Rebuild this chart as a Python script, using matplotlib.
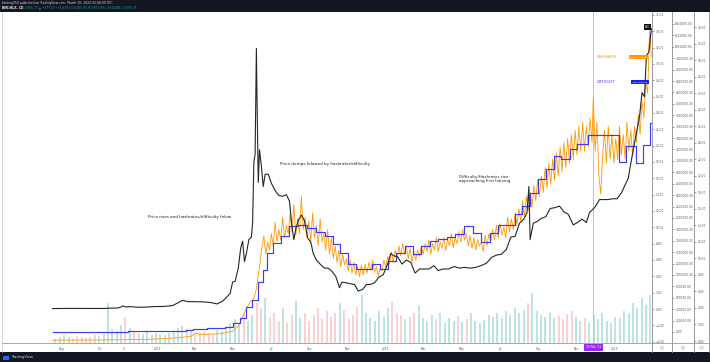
import numpy as np
import pandas as pd
import matplotlib
matplotlib.use("Agg")
import matplotlib.pyplot as plt
import matplotlib.dates as mdates
from matplotlib.lines import Line2D
from matplotlib.patches import Rectangle

# ---------------- data ----------------
price_dates = [
    "2010-07-17", "2010-07-25", "2010-08-10", "2010-09-01", "2010-09-25", "2010-10-08",
    "2010-10-15", "2010-10-28", "2010-11-03", "2010-11-06", "2010-11-10", "2010-11-20",
    "2010-12-01", "2010-12-15", "2010-12-28", "2011-01-10", "2011-01-25", "2011-02-05",
    "2011-02-10", "2011-02-18", "2011-03-01", "2011-03-15", "2011-03-28", "2011-04-06",
    "2011-04-15", "2011-04-22", "2011-04-27", "2011-05-01", "2011-05-05", "2011-05-10",
    "2011-05-14", "2011-05-17", "2011-05-20", "2011-05-23", "2011-05-27", "2011-05-31",
    "2011-06-02", "2011-06-04", "2011-06-06", "2011-06-08", "2011-06-09", "2011-06-11",
    "2011-06-13", "2011-06-16", "2011-06-19", "2011-06-22", "2011-06-27", "2011-07-02",
    "2011-07-08", "2011-07-14", "2011-07-20", "2011-07-26", "2011-07-31", "2011-08-04",
    "2011-08-07", "2011-08-10", "2011-08-15", "2011-08-19", "2011-08-24", "2011-08-29",
    "2011-09-03", "2011-09-07", "2011-09-12", "2011-09-18", "2011-09-25", "2011-10-01",
    "2011-10-07", "2011-10-13", "2011-10-19", "2011-10-23", "2011-10-30", "2011-11-05",
    "2011-11-12", "2011-11-18", "2011-11-25", "2011-12-01", "2011-12-07", "2011-12-14",
    "2011-12-21", "2011-12-28", "2012-01-04", "2012-01-09", "2012-01-14", "2012-01-20",
    "2012-01-27", "2012-02-03", "2012-02-10", "2012-02-17", "2012-02-24", "2012-03-02",
    "2012-03-10", "2012-03-18", "2012-03-25", "2012-04-01", "2012-04-10", "2012-04-20",
    "2012-04-28", "2012-05-06", "2012-05-15", "2012-05-24", "2012-06-01", "2012-06-10",
    "2012-06-18", "2012-06-26", "2012-07-04", "2012-07-12", "2012-07-19", "2012-07-26",
    "2012-08-02", "2012-08-09", "2012-08-14", "2012-08-17", "2012-08-19", "2012-08-24",
    "2012-08-30", "2012-09-06", "2012-09-13", "2012-09-20", "2012-09-27", "2012-10-05",
    "2012-10-12", "2012-10-19", "2012-10-27", "2012-11-03", "2012-11-10", "2012-11-17",
    "2012-11-22", "2012-12-01", "2012-12-08", "2012-12-15", "2012-12-22", "2012-12-29",
    "2013-01-05", "2013-01-12", "2013-01-18", "2013-01-23", "2013-01-27", "2013-02-02",
    "2013-02-10", "2013-02-14", "2013-02-18", "2013-02-21", "2013-02-25", "2013-03-01",
]
price_vals = [
    0.05, 0.06, 0.07, 0.065, 0.062, 0.065,
    0.10, 0.12, 0.22, 0.39, 0.26, 0.28,
    0.21, 0.24, 0.30, 0.31, 0.42, 0.85,
    1.06, 0.90, 0.90, 0.87, 0.78, 0.62,
    0.95, 1.50, 1.90, 3.30, 3.40, 5.00,
    7.50, 8.30, 5.80, 6.80, 8.50, 8.80,
    10.6, 18.0, 19.0, 31.9, 26.0, 15.5,
    19.5, 17.5, 15.0, 16.5, 16.5, 15.4,
    14.5, 13.9, 13.8, 14.0, 13.2, 10.0,
    8.5, 9.8, 11.0, 11.5, 10.8, 8.7,
    8.2, 6.8, 6.0, 5.5, 5.0, 5.0,
    4.6, 4.0, 2.6, 3.3, 3.2, 3.1,
    3.0, 2.2, 2.4, 3.0, 3.0, 3.2,
    3.9, 4.2, 5.5, 6.8, 6.5, 6.4,
    5.5, 6.0, 5.7, 4.4, 4.9, 4.9,
    4.9, 5.3, 4.7, 4.9, 4.9, 5.2,
    5.0, 5.1, 5.0, 5.1, 5.3, 5.6,
    6.3, 6.6, 6.7, 7.3, 8.8, 8.9,
    10.5, 11.0, 11.8, 15.0, 8.5, 10.5,
    10.7, 11.1, 11.3, 12.3, 12.4, 12.6,
    11.9, 11.6, 10.3, 10.6, 11.0, 10.6,
    11.8, 12.5, 13.4, 13.4, 13.4, 13.5,
    13.5, 14.2, 15.2, 16.0, 17.8, 20.3,
    23.5, 26.5, 26.0, 31.0, 31.5, 34.3,
]

diff_dates = [
    "2010-07-17", "2010-08-14", "2010-09-14", "2010-10-05", "2010-10-16", "2010-11-01",
    "2010-11-14", "2010-11-30", "2010-12-18", "2011-01-05", "2011-01-18", "2011-01-31",
    "2011-02-15", "2011-02-26", "2011-03-09", "2011-03-21", "2011-04-06", "2011-04-19",
    "2011-05-01", "2011-05-12", "2011-05-22", "2011-06-01", "2011-06-11", "2011-06-19",
    "2011-06-25", "2011-07-05", "2011-07-18", "2011-07-30", "2011-08-13", "2011-08-28",
    "2011-09-11", "2011-09-25", "2011-10-08", "2011-10-20", "2011-11-01", "2011-11-15",
    "2011-11-28", "2011-12-10", "2011-12-23", "2012-01-05", "2012-01-18", "2012-01-31",
    "2012-02-13", "2012-02-27", "2012-03-12", "2012-03-25", "2012-04-08", "2012-04-21",
    "2012-05-05", "2012-05-19", "2012-06-01", "2012-06-15", "2012-06-29", "2012-07-12",
    "2012-07-25", "2012-08-06", "2012-08-19", "2012-08-31", "2012-09-13", "2012-09-26",
    "2012-10-08", "2012-10-21", "2012-11-02", "2012-11-19", "2013-01-08", "2013-01-19",
    "2013-02-05", "2013-02-16", "2013-02-26",
]
diff_vals = [  # millions
    0.0002, 0.0006, 0.0015, 0.003, 0.0045, 0.0068,
    0.0088, 0.012, 0.014, 0.016, 0.019, 0.022,
    0.029, 0.045, 0.055, 0.067, 0.068, 0.092,
    0.159, 0.244, 0.434, 0.567, 0.877, 1.09,
    1.38, 1.56, 1.69, 1.85, 1.88, 1.82,
    1.76, 1.69, 1.55, 1.38, 1.19, 1.10,
    1.10, 1.19, 1.10, 1.25, 1.38, 1.50,
    1.37, 1.50, 1.59, 1.63, 1.66, 1.72,
    1.85, 1.73, 1.58, 1.73, 1.87, 1.87,
    2.07, 2.21, 2.44, 2.69, 2.86, 3.08,
    3.04, 3.20, 3.30, 3.46, 2.98, 3.26,
    2.96, 3.28, 3.67,
]

hr_dates = [
    "2010-07-17", "2010-09-15", "2010-11-01", "2010-12-15", "2011-01-15", "2011-02-10",
    "2011-02-25", "2011-03-03", "2011-03-08", "2011-03-20", "2011-04-05", "2011-04-20",
    "2011-05-01", "2011-05-10", "2011-05-15", "2011-05-20", "2011-05-25", "2011-05-30",
    "2011-06-04", "2011-06-08", "2011-06-11", "2011-06-14", "2011-06-17", "2011-06-20",
    "2011-06-23", "2011-06-26", "2011-06-29", "2011-07-02", "2011-07-05", "2011-07-08",
    "2011-07-11", "2011-07-14", "2011-07-17", "2011-07-20", "2011-07-23", "2011-07-26",
    "2011-07-29", "2011-08-01", "2011-08-04", "2011-08-07", "2011-08-10", "2011-08-13",
    "2011-08-16", "2011-08-19", "2011-08-22", "2011-08-25", "2011-08-28", "2011-08-31",
    "2011-09-03", "2011-09-06", "2011-09-09", "2011-09-12", "2011-09-15", "2011-09-18",
    "2011-09-21", "2011-09-24", "2011-09-27", "2011-09-30", "2011-10-03", "2011-10-06",
    "2011-10-09", "2011-10-12", "2011-10-15", "2011-10-18", "2011-10-21", "2011-10-24",
    "2011-10-27", "2011-10-30", "2011-11-02", "2011-11-05", "2011-11-08", "2011-11-11",
    "2011-11-14", "2011-11-17", "2011-11-20", "2011-11-23", "2011-11-26", "2011-11-29",
    "2011-12-02", "2011-12-05", "2011-12-08", "2011-12-11", "2011-12-14", "2011-12-17",
    "2011-12-20", "2011-12-23", "2011-12-26", "2011-12-29", "2012-01-01", "2012-01-04",
    "2012-01-07", "2012-01-10", "2012-01-13", "2012-01-16", "2012-01-19", "2012-01-22",
    "2012-01-25", "2012-01-28", "2012-01-31", "2012-02-03", "2012-02-06", "2012-02-09",
    "2012-02-12", "2012-02-15", "2012-02-18", "2012-02-21", "2012-02-24", "2012-02-27",
    "2012-03-01", "2012-03-04", "2012-03-07", "2012-03-10", "2012-03-13", "2012-03-16",
    "2012-03-19", "2012-03-22", "2012-03-25", "2012-03-28", "2012-03-31", "2012-04-03",
    "2012-04-06", "2012-04-09", "2012-04-12", "2012-04-15", "2012-04-18", "2012-04-21",
    "2012-04-24", "2012-04-27", "2012-04-30", "2012-05-03", "2012-05-06", "2012-05-09",
    "2012-05-12", "2012-05-15", "2012-05-18", "2012-05-21", "2012-05-24", "2012-05-27",
    "2012-05-30", "2012-06-02", "2012-06-05", "2012-06-08", "2012-06-11", "2012-06-14",
    "2012-06-17", "2012-06-20", "2012-06-23", "2012-06-26", "2012-06-29", "2012-07-02",
    "2012-07-05", "2012-07-08", "2012-07-11", "2012-07-14", "2012-07-17", "2012-07-20",
    "2012-07-23", "2012-07-26", "2012-07-29", "2012-08-01", "2012-08-04", "2012-08-07",
    "2012-08-10", "2012-08-13", "2012-08-16", "2012-08-19", "2012-08-22", "2012-08-25",
    "2012-08-28", "2012-08-31", "2012-09-03", "2012-09-06", "2012-09-09", "2012-09-12",
    "2012-09-15", "2012-09-18", "2012-09-21", "2012-09-24", "2012-09-27", "2012-09-30",
    "2012-10-03", "2012-10-06", "2012-10-09", "2012-10-12", "2012-10-15", "2012-10-18",
    "2012-10-21", "2012-10-24", "2012-10-27", "2012-10-30", "2012-11-02", "2012-11-05",
    "2012-11-08", "2012-11-11", "2012-11-14", "2012-11-17", "2012-11-20", "2012-11-23",
    "2012-11-26", "2012-11-28", "2012-12-01", "2012-12-04", "2012-12-07", "2012-12-10",
    "2012-12-13", "2012-12-16", "2012-12-19", "2012-12-22", "2012-12-25", "2012-12-28",
    "2012-12-31", "2013-01-03", "2013-01-06", "2013-01-09", "2013-01-12", "2013-01-15",
    "2013-01-18", "2013-01-21", "2013-01-24", "2013-01-27", "2013-01-30", "2013-02-02",
    "2013-02-05", "2013-02-08", "2013-02-11", "2013-02-14", "2013-02-17", "2013-02-20",
    "2013-02-23", "2013-02-26", "2013-03-01",
]
hr_vals = [
    0.1, 0.12, 0.15, 0.2, 0.3, 0.45,
    0.6, 1.0, 0.8, 0.8, 0.85, 1.0,
    1.2, 1.8, 2.6, 3.4, 4.2, 4.8,
    5.2, 6.3, 8.0, 9.5, 11.5, 12.7,
    10.5, 12.0, 11.0, 13.0, 11.5, 14.4,
    12.0, 13.5, 12.2, 15.0, 12.5, 14.0,
    13.0, 15.5, 13.2, 16.5, 12.8, 14.8,
    13.0, 17.5, 13.5, 15.0, 12.5, 14.5,
    12.0, 15.5, 12.5, 14.0, 11.5, 14.8,
    12.0, 13.0, 11.0, 13.5, 10.5, 12.5,
    10.0, 11.5, 9.5, 11.0, 9.0, 10.5,
    9.2, 10.0, 8.5, 9.8, 8.2, 9.5,
    8.0, 9.0, 7.8, 9.2, 8.0, 9.3,
    8.2, 9.5, 8.5, 9.8, 8.3, 9.0,
    7.9, 8.8, 8.5, 9.8, 9.0, 10.2,
    9.3, 10.8, 9.5, 11.0, 10.0, 11.5,
    10.3, 11.8, 10.5, 11.5, 10.0, 11.2,
    9.5, 10.8, 9.8, 11.0, 10.2, 11.5,
    10.5, 11.8, 10.8, 12.2, 10.5, 11.8,
    11.0, 12.5, 10.8, 12.0, 11.2, 12.5,
    11.0, 12.3, 11.5, 13.0, 11.3, 12.5,
    11.8, 13.2, 12.0, 13.5, 12.2, 13.0,
    11.5, 12.8, 11.2, 12.5, 11.0, 12.3,
    11.5, 12.0, 10.8, 12.8, 11.5, 13.0,
    12.0, 13.5, 12.2, 14.0, 12.5, 14.2,
    12.8, 13.8, 12.5, 15.0, 13.2, 14.8,
    13.5, 15.5, 14.0, 16.0, 14.5, 17.0,
    15.0, 17.5, 15.8, 18.0, 16.2, 18.8,
    17.0, 19.5, 17.5, 20.0, 18.0, 21.0,
    18.5, 21.5, 19.0, 22.0, 19.5, 22.8,
    20.0, 23.5, 20.5, 24.0, 21.0, 24.5,
    21.5, 25.0, 22.0, 25.5, 22.5, 26.0,
    23.0, 26.5, 23.0, 26.0, 23.5, 27.0,
    24.0, 29.5, 23.0, 26.5, 20.0, 17.8,
    22.5, 25.5, 21.5, 26.0, 22.0, 25.0,
    21.5, 24.5, 22.0, 26.0, 22.5, 25.0,
    22.0, 26.5, 23.0, 25.5, 22.5, 26.0,
    24.0, 27.5, 25.0, 29.0, 27.0, 31.5,
    30.0, 37.5, 34.4,
]

vol_week_start = "2010-07-18"
vol_vals = [
    4, 6,
    8, 6, 5, 7, 6,
    5, 6, 8, 7,
    9, 40, 14, 12, 18,
    26, 15, 12, 10,
    9, 11, 8, 10,
    9, 8, 10, 12, 15,
    17, 14, 12, 10,
    11, 12, 10, 9,
    13, 12, 15, 20,
    24, 18, 30, 22, 28,
    40, 35, 45, 25,
    30, 22, 35, 20, 28,
    42, 25, 30, 22,
    28, 35, 24, 32,
    26, 30, 40, 33, 24,
    28, 36, 48, 30,
    25, 22, 32, 26,
    35, 42, 30, 28, 24,
    26, 30, 38, 25,
    22, 28, 24, 30,
    20, 25, 22, 27, 21,
    24, 30, 22, 20,
    23, 28, 26, 30,
    25, 32, 28, 35, 30,
    33, 40, 50, 32,
    28, 26, 30, 25, 27,
    24, 29, 32, 26,
    22, 25, 20, 28,
    24, 30, 22, 20, 26,
    25, 32, 30, 40,
    35, 45, 38, 48,
]

xtick_dates = ["2010-08-01", "2010-10-01", "2010-11-08", "2011-01-01", "2011-03-01",
               "2011-05-01", "2011-07-01", "2011-09-01", "2011-11-01", "2012-01-01",
               "2012-03-01", "2012-05-01", "2012-07-01", "2012-09-01", "2012-11-01",
               "2013-01-01"]
xtick_labels = ["Aug", "Oct", "6", "2011", "Mar", "May", "Jul", "Sep", "Nov", "2012",
                "Mar", "May", "Jul", "Sep", "Nov", "2013"]
crosshair_date = "2012-11-28"
crosshair_label = "28 Nov '12"

# ---------------- figure ----------------
W, H = 710, 362
fig = plt.figure(figsize=(W / 100, H / 100), dpi=100)
fig.patch.set_facecolor("white")


def fx(x):
    return x / W


def fy(y):
    return 1 - y / H


L, T, R, B = 2, 12, 652, 343
host = fig.add_axes([fx(L), fy(B), (R - L) / W, (B - T) / H])
ax_hr = host.twinx()
ax_df = host.twinx()
ax_px = host.twinx()

pdates = pd.to_datetime(price_dates)
ddates = pd.to_datetime(diff_dates)
hdates = pd.to_datetime(hr_dates)
vdates = pd.date_range(vol_week_start, periods=len(vol_vals), freq="7D")

host.set_xlim(pd.Timestamp("2010-04-27"), pd.Timestamp("2013-03-02"))

# volume (overlay)
pnum = mdates.date2num(pdates)
vnum = mdates.date2num(vdates)
p_start = np.interp(vnum, pnum, price_vals)
p_end = np.interp(vnum + 7, pnum, price_vals)
vcol = [(0.149, 0.651, 0.604, 0.30) if e >= s else (0.937, 0.325, 0.314, 0.26)
        for s, e in zip(p_start, p_end)]
host.bar(vdates + pd.Timedelta(days=3.5), vol_vals, width=3.2, color=vcol, linewidth=0)
host.set_ylim(0, 331)
host.set_yticks([])

# hashrate (C)
ax_hr.plot(hdates, hr_vals, color="#ff9800", lw=0.6, zorder=3)
ax_hr.set_ylim(-0.242, 39.83)

# difficulty (B)
dd = list(ddates) + [pdates[-1]]
dv = list(diff_vals) + [diff_vals[-1]]
ax_df.plot(dd, dv, drawstyle="steps-post", color="#3b3bf2", lw=0.85, zorder=3)
ax_df.set_ylim(-0.193, 5.610)

# price (A)
ax_px.plot(pdates, price_vals, color="#262626", lw=0.8, zorder=4)
ax_px.set_ylim(-4.163, 36.366)

# crosshair
host.axvline(pd.Timestamp(crosshair_date), color="#d4b0f7", lw=0.7, zorder=1)

# spines / ticks
for a in (host, ax_hr, ax_df, ax_px):
    for s in ("top", "left", "right", "bottom"):
        a.spines[s].set_visible(False)
host.spines["left"].set_visible(True)
host.spines["left"].set_color("#c8c8c8")
host.spines["left"].set_linewidth(0.5)
host.spines["bottom"].set_visible(True)
host.spines["bottom"].set_color("#9a9a9a")
host.spines["bottom"].set_linewidth(0.6)

spine_pos = {ax_px: 1.0, ax_df: (672 - L) / (R - L), ax_hr: (694 - L) / (R - L)}
for a, pos in spine_pos.items():
    a.spines["right"].set_visible(True)
    a.spines["right"].set_position(("axes", pos))
    a.spines["right"].set_color("#8a8a8a")
    a.spines["right"].set_linewidth(0.6)
    a.tick_params(axis="y", direction="out", length=1.6, width=0.4, pad=0.8,
                  labelsize=2.1, colors="#555555")

a_ticks = np.arange(-4, 37, 2)
ax_px.set_yticks(a_ticks)
ax_px.set_yticklabels([("%.2f" % v).replace("-", "\u2212") for v in a_ticks])
b_ticks = np.arange(0, 28) * 0.2
ax_df.set_yticks(b_ticks)
ax_df.set_yticklabels(["%.2f" % (v * 1e6) for v in b_ticks])
c_ticks = np.arange(0, 39, 2)
ax_hr.set_yticks(c_ticks)
ax_hr.set_yticklabels(["%.2f" % v for v in c_ticks])

host.set_xticks(pd.to_datetime(xtick_dates))
host.set_xticklabels(xtick_labels)
host.tick_params(axis="x", length=0, pad=2.6, labelsize=2.1, colors="#555555")

host.text(pd.Timestamp(crosshair_date), -0.0135, crosshair_label,
          transform=host.get_xaxis_transform(), ha="center", va="center",
          fontsize=2.1, color="white", zorder=10, clip_on=False,
          bbox=dict(boxstyle="square,pad=0.55", fc="#9b27f2", ec="none"))

# annotations
host.text(pd.Timestamp("2010-12-17"), (343 - 217) / 331, "Price rises and hashrates/difficulty folow",
          transform=host.get_xaxis_transform(), fontsize=3.0, color="#222222", va="center")
host.text(pd.Timestamp("2011-07-16"), (343 - 164) / 331, "Price dumps folowed by hashrates/difficulty",
          transform=host.get_xaxis_transform(), fontsize=3.0, color="#222222", va="center")
host.text(pd.Timestamp("2012-04-27"), (343 - 179) / 331,
          "Difficulty/Hashrates rise\napproaching first halving",
          transform=host.get_xaxis_transform(), fontsize=3.0, color="#222222", va="center",
          linespacing=0.95)

# series labels
fig.text(fx(647.5), fy(26.8), "BLX", fontsize=1.8, color="white", ha="center", va="center",
         bbox=dict(boxstyle="square,pad=0.35", fc="#111111", ec="none"))
fig.text(fx(597), fy(57), "HASHRATES", fontsize=2.4, color="#ff9800", ha="left", va="center")
fig.text(fx(638.5), fy(57), "BCHAIN/HRATE", fontsize=1.7, color="white", ha="center", va="center",
         bbox=dict(boxstyle="square,pad=0.4", fc="#ff9800", ec="none"))
fig.text(fx(597), fy(82), "DIFFICULTY", fontsize=2.4, color="#3b3bf2", ha="left", va="center")
fig.text(fx(640), fy(82), "BCHAIN/DIFF", fontsize=1.7, color="white", ha="center", va="center",
         bbox=dict(boxstyle="square,pad=0.4", fc="#2020e8", ec="none"))

# frame lines beyond axes
for xx in (652, 672, 694, 709):
    fig.add_artist(Line2D([fx(xx), fx(xx)], [fy(343 if xx != 709 else 12), fy(352)],
                          color="#8a8a8a", lw=0.6))
fig.add_artist(Line2D([fx(652), fx(709)], [fy(343), fy(343)], color="#9a9a9a", lw=0.6))
fig.add_artist(Line2D([fx(2), fx(2)], [fy(343), fy(352)], color="#c8c8c8", lw=0.5))

for xx, lab in ((662, "A"), (683, "B"), (701.5, "C")):
    fig.text(fx(xx), fy(347.8), lab, fontsize=1.6, color="#777777", ha="center", va="center",
             bbox=dict(boxstyle="circle,pad=0.45", fc="#f2f2f2", ec="#c4c4c4", lw=0.4))

# header & footer
fig.add_artist(Rectangle((0, fy(12)), 1, 12 / H, transform=fig.transFigure,
                         fc="#131722", ec="none", zorder=0))
fig.add_artist(Rectangle((0, 0), 1, 10 / H, transform=fig.transFigure,
                         fc="#131722", ec="none", zorder=0))
fig.text(fx(2), fy(3.4), "btcking350 published on TradingView.com, March 16, 2020 02:08:09 UTC",
         fontsize=2.2, color="#d1d4dc", va="center")
fig.text(fx(2), fy(7.8), "BNC:BLX, 1D", fontsize=2.2, color="#e6e8ee", va="center",
         fontweight="bold")
fig.text(fx(25), fy(7.8), "5355.75 \u25b2 +177.57 (+3.43%) O:5180.91 H:5957.93 L:5323.80 C:5355.75",
         fontsize=2.2, color="#26a69a", va="center")
fig.add_artist(Rectangle((fx(3), fy(359.5)), 6 / W, 4 / H, transform=fig.transFigure,
                         fc="#2962ff", ec="none"))
fig.text(fx(11), fy(357.3), "TradingView", fontsize=2.6, color="#d1d4dc", va="center")

fig.savefig("out.png", dpi=100, facecolor=fig.get_facecolor())
